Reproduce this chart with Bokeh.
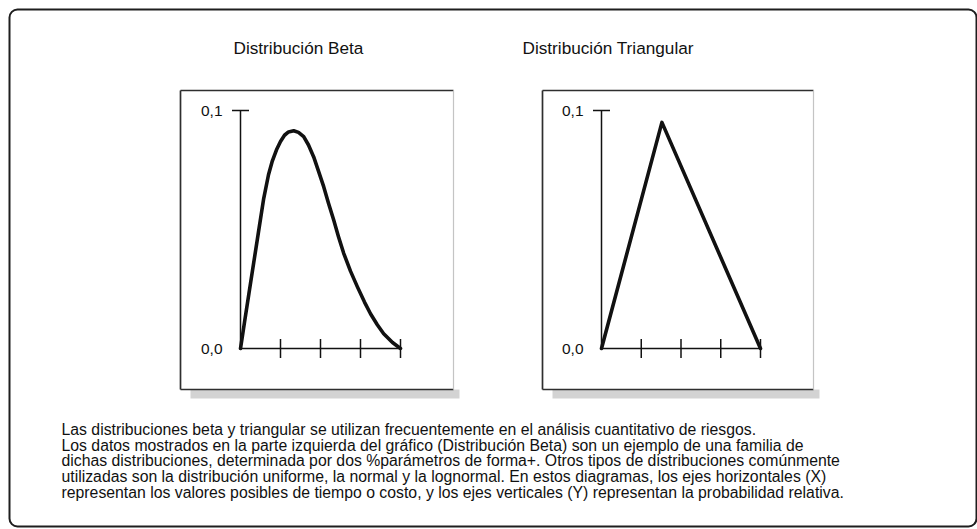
from math import pi
from bokeh.plotting import figure
from bokeh.models import Range1d, BoxAnnotation
from bokeh.core.properties import value
from bokeh.embed import file_html
from bokeh.resources import INLINE

# ---------------- data ----------------
beta_x = [0, 0.05, 0.1, 0.21, 0.33, 0.45, 0.58, 0.7, 0.79, 0.9, 1.0, 1.1, 1.2, 1.33, 1.45,
          1.58, 1.7, 1.83, 1.95, 2.08, 2.2, 2.33, 2.45, 2.58, 2.75, 2.92, 3.1, 3.25, 3.42,
          3.58, 3.8, 4.0]
beta_y = [0, 0.0055, 0.011, 0.023, 0.036, 0.049, 0.063, 0.073, 0.0785, 0.0835, 0.087,
          0.0896, 0.0910, 0.0915, 0.0908, 0.0890, 0.0855, 0.0805, 0.0745, 0.068, 0.061,
          0.054, 0.047, 0.040, 0.0325, 0.026, 0.0195, 0.0146, 0.0100, 0.0062, 0.0025, 0]
tri_x = [0, 1.52, 4.0]
tri_y = [0, 0.095, 0]
x_ticks = [1, 2, 3, 4]
y_ticks = [0.0, 0.1]
y_tick_labels = ["0,0", "0,1"]
titles = ["Distribución Beta", "Distribución Triangular"]
caption = [
    "Las distribuciones beta y triangular se utilizan frecuentemente en el análisis cuantitativo de riesgos.",
    "Los datos mostrados en la parte izquierda del gráfico (Distribución Beta) son un ejemplo de una familia de",
    "dichas distribuciones, determinada por dos %parámetros de forma+. Otros tipos de distribuciones comúnmente",
    "utilizadas son la distribución uniforme, la normal y la lognormal. En estos diagramas, los ejes horizontales (X)",
    "representan los valores posibles de tiempo o costo, y los ejes verticales (Y) representan la probabilidad relativa.",
]

FONT = value("Liberation Sans")
INK = "#111111"

# ---------------- canvas ----------------
W, H = 977, 529
OX, OY = 0, 0  # image offset of the plot
p = figure(width=W, height=H, x_range=Range1d(OX, OX + W), y_range=Range1d(OY + H, OY),
           output_backend="svg", toolbar_location=None, min_border=0,
           x_axis_location=None, y_axis_location=None, outline_line_color=None)
p.grid.visible = False
p.background_fill_color = "white"
p.border_fill_color = "white"


def pix_range(v0, p0, v1, p1, total):
    s = (p1 - p0) / (v1 - v0)
    start = v0 - p0 / s
    return Range1d(start, start + total / s)


# panel data scales: x 0..4 and y 0..0.1 anchored to image pixels
p.extra_y_ranges = {"py": pix_range(0.0, (OY + H) - 348, 0.1, (OY + H) - 110, H)}
p.extra_x_ranges = {
    "p1x": pix_range(0, 240 - OX, 4, 400 - OX, W),
    "p2x": pix_range(0, 601 - OX, 4, 760 - OX, W),
}

# outer rounded frame
p.add_layout(BoxAnnotation(left=9, right=976, top=9, bottom=526, fill_alpha=0,
                           line_color="#1e1e1e", line_alpha=1, line_width=2,
                           border_radius=8, level="underlay"))

panels = [
    dict(left=180, right=453, xr="p1x", xs=beta_x, ys=beta_y, title_x=233),
    dict(left=542, right=813, xr="p2x", xs=tri_x, ys=tri_y, title_x=522),
]
top, bottom = 90, 389

for i, pn in enumerate(panels):
    L, R = pn["left"], pn["right"]
    # shadow under the panel
    p.quad(left=[L + 10], right=[R + 6], top=[bottom], bottom=[bottom + 9],
           fill_color="#d3d3d3", line_color=None)
    # panel box: dark left/top/bottom edges, faint right edge
    p.quad(left=[L], right=[R], top=[top], bottom=[bottom], fill_color="white", line_color=None)
    p.multi_line(xs=[[L, L], [L, R], [L, R]], ys=[[top, bottom], [top, top], [bottom, bottom]],
                 line_color="#2e2e2e", line_width=1.7)
    p.line([R, R], [top, bottom], line_color="#c4c4c4", line_width=1.2)
    # title
    p.text(x=[pn["title_x"]], y=[47], text=[titles[i]], text_font=FONT,
           text_font_size="17.2px", text_color=INK, text_baseline="alphabetic", text_align="left")

    xr = pn["xr"]
    # axes
    p.line([0, 0], [min(y_ticks), max(y_ticks)], x_range_name=xr, y_range_name="py",
           line_color=INK, line_width=1.5)
    p.line([0, max(x_ticks)], [0, 0], x_range_name=xr, y_range_name="py",
           line_color=INK, line_width=1.5)
    p.scatter(x=x_ticks, y=[0] * len(x_ticks), marker="dash", size=19, angle=pi / 2,
              line_color=INK, line_width=1.5, x_range_name=xr, y_range_name="py")
    p.scatter(x=[0], y=[max(y_ticks)], marker="dash", size=17,
              line_color=INK, line_width=1.5, x_range_name=xr, y_range_name="py")
    p.text(x=[0] * len(y_ticks), y=y_ticks, text=y_tick_labels, x_offset=-18,
           text_font=FONT, text_font_size="15.5px", text_color=INK,
           text_align="right", text_baseline="middle", x_range_name=xr, y_range_name="py")
    # distribution curve
    p.line(pn["xs"], pn["ys"], x_range_name=xr, y_range_name="py",
           line_color=INK, line_width=3.6, line_join="round", line_cap="round")

# caption
p.text(x=[61] * len(caption), y=[429 + 15.7 * k for k in range(len(caption))], text=caption,
       text_font=FONT, text_font_size="15.8px", text_color=INK,
       text_align="left", text_baseline="alphabetic")

open("out.html", "w").write(file_html(p, INLINE))
